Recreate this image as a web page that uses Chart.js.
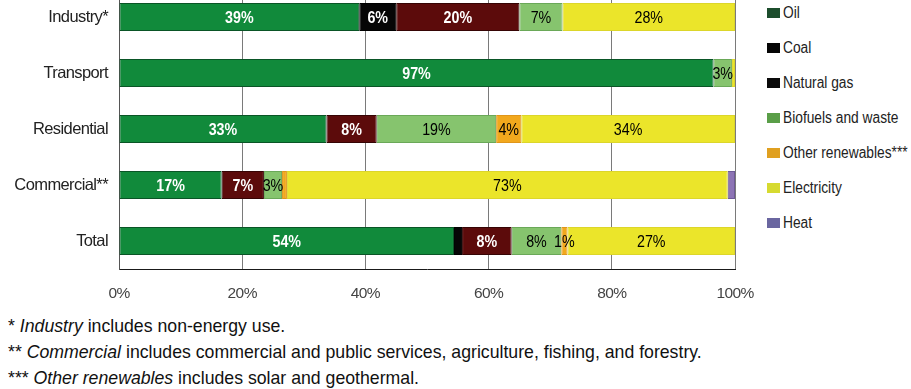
<!DOCTYPE html>
<html>
<head>
<meta charset="utf-8">
<script src="https://cdn.jsdelivr.net/npm/chart.js@4/dist/chart.umd.min.js"></script>
<style>
  body { margin: 0; background: #fff; }
  #page { position: relative; width: 911px; height: 389px; overflow: hidden; }
  #chartBox { position: absolute; left: 0; top: -11px; width: 760px; height: 315px; }
  #legend { position: absolute; left: 767px; top: 3px; font-family: "Liberation Sans", Arial, sans-serif; font-size: 16px; color: #222; }
  .legend-item { display: flex; align-items: center; height: 20px; margin-bottom: 15px; white-space: nowrap; }
  .legend-item span.txt { display: inline-block; transform: scaleX(0.86); transform-origin: left center; }
  .swatch { width: 13px; height: 10px; margin-right: 3px; }
  #notes { position: absolute; left: 8px; top: 313px; font-family: "Liberation Sans", Arial, sans-serif; font-size: 17.7px; color: #111; line-height: 26px; }
</style>
</head>
<body>
<div id="page">
  <div id="chartBox"><canvas id="energyChart"></canvas></div>
  <div id="legend"></div>
  <div id="notes">
    <div>* <i>Industry</i> includes non-energy use.</div>
    <div>** <i>Commercial</i> includes commercial and public services, agriculture, fishing, and forestry.</div>
    <div>*** <i>Other renewables</i> includes solar and geothermal.</div>
  </div>
</div>
<script>
// shares in %, as labelled; non-integer values are small unlabelled slivers
const categories = ['Industry*', 'Transport', 'Residential', 'Commercial**', 'Total'];
const oil = [39, 97, 33, 17, 54];
const coal = [6, 0, 0, 0, 1.3];
const naturalGas = [20, 0, 8, 7, 8];
const biofuels = [7, 3, 19, 3, 8];
const otherRenewables = [0, 0, 4, 0.8, 1];
const electricity = [28, 0.5, 34, 73, 27];
const heat = [0, 0, 0, 1.2, 0];
const xTicks = [0, 20, 40, 60, 80, 100];

const seriesNames = ['Oil', 'Coal', 'Natural gas', 'Biofuels and waste', 'Other renewables***', 'Electricity', 'Heat'];
const seriesValues = [oil, coal, naturalGas, biofuels, otherRenewables, electricity, heat];
const barColors = ['#118a3b', '#060606', '#5c0b0b', '#86c46e', '#f2a81d', '#ebe52a', '#8d74b5'];
const borderColors = ['#0a5526', '#000000', '#360404', '#6aa858', '#e0961a', '#dcd62a', '#6e5a96'];
const legendColors = ['#1c4d2c', '#050505', '#0a0a0a', '#5a9e48', '#e0a020', '#d6da30', '#6a66a0'];
const labelColors = ['#fff', '#fff', '#fff', '#000', '#000', '#000', '#000'];
const NARROW = 0.84;

// each bar is scaled to 100% of its row total
const rowTotals = categories.map((c, i) => seriesValues.reduce((s, arr) => s + arr[i], 0));

const legendEl = document.getElementById('legend');
seriesNames.forEach((name, i) => {
    const item = document.createElement('div');
    item.className = 'legend-item';
    item.innerHTML = `<span class="swatch" style="background:${legendColors[i]}"></span><span class="txt">${name}</span>`;
    legendEl.appendChild(item);
});

const narrowText = {
    id: 'narrowText',
    beforeDraw(chart) { chart.ctx.letterSpacing = '-0.6px'; },
    afterDraw(chart) { chart.ctx.letterSpacing = '0px'; }
};

const barLabels = {
    id: 'barLabels',
    afterDatasetsDraw(chart) {
        const ctx = chart.ctx;
        chart.data.datasets.forEach((ds, di) => {
            const meta = chart.getDatasetMeta(di);
            meta.data.forEach((bar, i) => {
                const raw = seriesValues[di][i];
                if (!raw || !Number.isInteger(raw)) return;
                const props = bar.getProps(['x', 'y', 'base'], true);
                ctx.save();
                ctx.letterSpacing = '0px';
                ctx.textAlign = 'center';
                ctx.textBaseline = 'middle';
                ctx.fillStyle = labelColors[di];
                ctx.font = (di < 3 ? 'bold ' : '') + '17px "Liberation Sans", Arial, sans-serif';
                ctx.translate((props.x + props.base) / 2, props.y + 1);
                ctx.scale(NARROW, 1);
                ctx.fillText(raw + '%', 0, 0);
                ctx.restore();
            });
        });
    }
};

const ctx = document.getElementById('energyChart').getContext('2d');
new Chart(ctx, {
    type: 'bar',
    data: {
        labels: categories,
        datasets: seriesNames.map((name, i) => ({
            label: name,
            data: seriesValues[i].map((v, r) => v / rowTotals[r] * 100),
            backgroundColor: barColors[i],
            borderColor: borderColors[i],
            borderWidth: 1,
            borderSkipped: false,
            barPercentage: 0.5,
            categoryPercentage: 1
        }))
    },
    options: {
        indexAxis: 'y',
        responsive: true,
        maintainAspectRatio: false,
        animation: false,
        layout: { padding: { top: 0, right: 25, bottom: 0, left: 0 } },
        plugins: {
            legend: { display: false },
            tooltip: { enabled: false }
        },
        scales: {
            x: {
                stacked: true,
                min: 0,
                max: 100,
                afterBuildTicks: scale => { scale.ticks = xTicks.map(v => ({ value: v })); },
                afterFit: scale => {
                    scale.height = 35;
                    scale.paddingLeft = 0;
                    scale.paddingRight = 0;
                },
                ticks: {
                    padding: 15,
                    color: '#444',
                    font: { family: '"Liberation Sans", Arial, sans-serif', size: 15.5 },
                    callback: v => v + '%'
                },
                grid: { color: '#7a7a7a', lineWidth: 1, drawTicks: false },
                border: { display: true, color: '#1a1a1a', width: 1 }
            },
            y: {
                stacked: true,
                afterFit: scale => {
                    scale.width = 119;
                    scale.paddingTop = 0;
                    scale.paddingBottom = 0;
                },
                ticks: {
                    padding: 11,
                    color: '#222',
                    font: { family: '"Liberation Sans", Arial, sans-serif', size: 16.5 }
                },
                grid: { display: false, drawTicks: false },
                border: { display: true, color: '#555', width: 1 }
            }
        }
    },
    plugins: [narrowText, barLabels]
});
</script>
</body>
</html>
